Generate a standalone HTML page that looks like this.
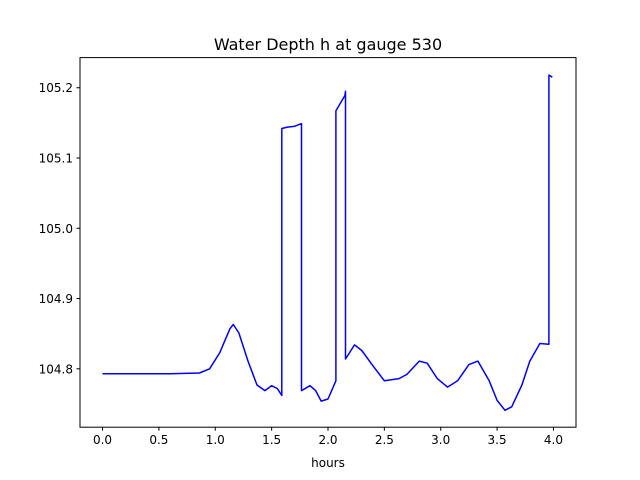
<!DOCTYPE html>
<html><head><meta charset="utf-8"><style>
body{margin:0;background:#fff;}
svg{display:block;font-family:"DejaVu Sans","Liberation Sans",sans-serif;}
</style></head><body>
<svg id="chart" width="640" height="480">
<rect x="0" y="0" width="640" height="480" fill="#fff"/>
<text x="328" y="50" font-size="16" text-anchor="middle">Water Depth h at gauge 530</text>
<g id="ticks"></g>
<path id="line" fill="none" stroke="#0000ff" stroke-width="1.5" stroke-linejoin="round"/>
<rect x="80" y="57.6" width="496" height="369.6" fill="none" stroke="#000" stroke-width="1"/>
<text x="328" y="467" font-size="12" text-anchor="middle">hours</text>
</svg>
<script>
const hours=[0,0.6,0.86,0.95,1.04,1.13,1.16,1.21,1.29,1.37,1.44,1.50,1.55,1.59,1.59,1.64,1.70,1.765,1.765,1.84,1.89,1.94,2.0,2.07,2.07,2.15,2.155,2.155,2.235,2.30,2.39,2.50,2.63,2.70,2.81,2.88,2.97,3.06,3.15,3.25,3.33,3.43,3.50,3.57,3.63,3.72,3.79,3.88,3.96,3.96,3.99];
const depth=[104.793,104.793,104.794,104.800,104.823,104.857,104.863,104.851,104.811,104.777,104.769,104.776,104.772,104.762,105.142,105.144,105.145,105.149,104.769,104.776,104.769,104.754,104.757,104.783,105.167,105.189,105.195,104.814,104.834,104.826,104.806,104.783,104.786,104.792,104.811,104.808,104.786,104.774,104.783,104.806,104.811,104.783,104.755,104.741,104.746,104.777,104.811,104.836,104.835,105.218,105.215];
const xTicks=[0,0.5,1,1.5,2,2.5,3,3.5,4];
const yTicks=[104.8,104.9,105.0,105.1,105.2];
const X0=80,X1=576,Y0=427.2,Y1=57.6,xmin=-0.2,xmax=4.2,ymin=104.7169,ymax=105.2429;
const sx=v=>X0+(v-xmin)/(xmax-xmin)*(X1-X0);
const sy=v=>Y0-(v-ymin)/(ymax-ymin)*(Y0-Y1);
const NS="http://www.w3.org/2000/svg";
const g=document.getElementById('ticks');
function mk(t,a){const e=document.createElementNS(NS,t);for(const k in a)e.setAttribute(k,a[k]);return e;}
xTicks.forEach(v=>{
 const l=mk('line',{x1:sx(v),x2:sx(v),y1:Y0,y2:Y0+3.5,stroke:'#000'});
 
 
 g.appendChild(l);
 const t=mk('text',{x:sx(v),y:Y0+17,'font-size':12,'text-anchor':'middle'});
 
 
 t.textContent=v.toFixed(1);g.appendChild(t);
});
yTicks.forEach(v=>{
 const l=mk('line',{x1:X0-3.5,x2:X0,y1:sy(v),y2:sy(v),stroke:'#000'});
 
 
 g.appendChild(l);
 const t=mk('text',{x:X0-7,y:sy(v)+4.5,'font-size':12,'text-anchor':'end'});
 
 
 t.textContent=v.toFixed(1);g.appendChild(t);
});
document.getElementById('line').setAttribute('d',hours.map((h,i)=>(i?'L':'M')+sx(h).toFixed(1)+' '+sy(depth[i]).toFixed(1)).join(' '));
</script>
</body></html>
